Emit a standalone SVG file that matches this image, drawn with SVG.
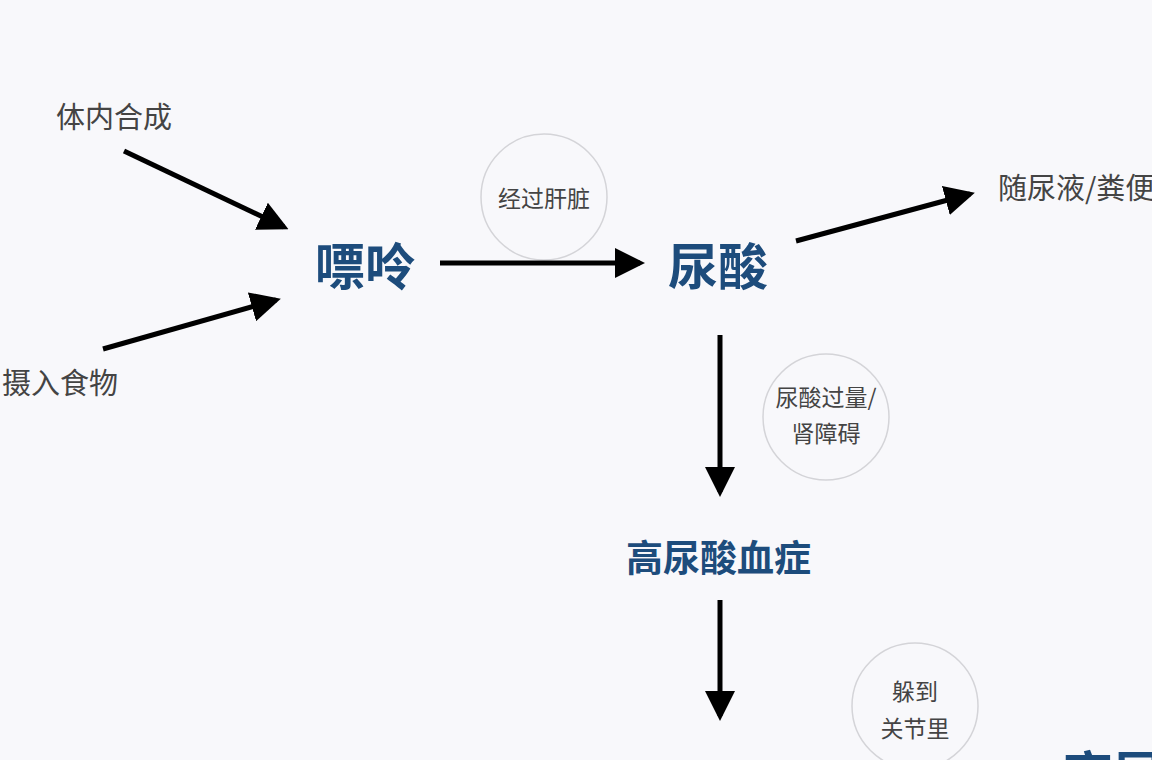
<svg xmlns="http://www.w3.org/2000/svg" width="1152" height="760" viewBox="0 0 1152 760">
<style>
.g{font-family:"Noto Sans CJK SC","Noto Sans",sans-serif;fill:#444;font-size:29px}
.s{font-family:"Noto Sans CJK SC","Noto Sans",sans-serif;fill:#444;font-size:23px;text-anchor:middle}
.b{font-family:"Noto Sans CJK SC","Noto Sans",sans-serif;fill:#1d4c7c;font-weight:bold}
.c{fill:none;stroke:#d4d4d8;stroke-width:1.5}
.l{stroke:#000;stroke-width:5;fill:none}
</style>
<defs><marker id="a" markerWidth="6" markerHeight="6" refX="5" refY="3" orient="auto" markerUnits="strokeWidth"><path d="M0,0L6,3L0,6z" fill="#000"/></marker></defs>
<rect width="1152" height="760" fill="#f8f8fb"/>
<g id="n1"><text class="g" x="56" y="128">体内合成</text></g>
<g id="n2"><text class="g" x="2" y="394">摄入食物</text></g>
<g id="n3"><text class="b" x="315" y="285" font-size="50">嘌呤</text></g>
<g id="n4"><text class="b" x="668" y="285" font-size="50">尿酸</text></g>
<g id="n5"><text class="g" x="998" y="199">随尿液/粪便</text></g>
<g id="n6"><text class="b" x="626" y="572" font-size="37">高尿酸血症</text></g>
<g id="n7"><text class="b" x="1063" y="793" font-size="50">高尿酸</text></g>
<g id="l1"><circle class="c" cx="544" cy="197" r="63"/><text class="s" x="544" y="207">经过肝脏</text></g>
<g id="l2"><circle class="c" cx="826" cy="417" r="63"/><text class="s" x="826" y="406">尿酸过量/</text><text class="s" x="826" y="442">肾障碍</text></g>
<g id="l3"><circle class="c" cx="915" cy="706" r="63"/><text class="s" x="915" y="700">躲到</text><text class="s" x="915" y="737">关节里</text></g>
<g id="edges">
<line class="l" x1="124" y1="151" x2="284" y2="227" marker-end="url(#a)"/>
<line class="l" x1="103" y1="349" x2="276" y2="300" marker-end="url(#a)"/>
<line class="l" x1="440" y1="263" x2="640" y2="263" marker-end="url(#a)"/>
<line class="l" x1="796" y1="241" x2="970" y2="194" marker-end="url(#a)"/>
<line class="l" x1="720" y1="335" x2="720" y2="492" marker-end="url(#a)"/>
<line class="l" x1="720" y1="600" x2="720" y2="716" marker-end="url(#a)"/>
</g>
</svg>
